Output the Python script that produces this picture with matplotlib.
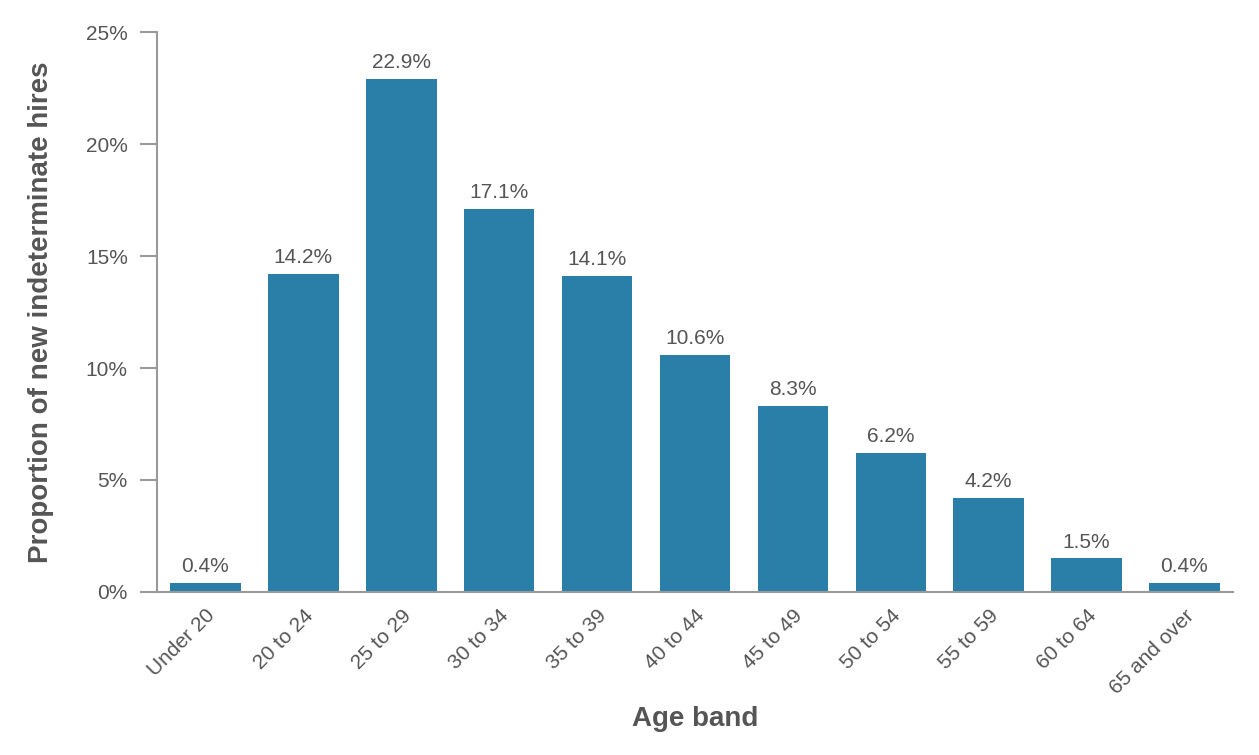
import matplotlib
matplotlib.use("Agg")
import matplotlib.pyplot as plt
from matplotlib.ticker import FuncFormatter

# Data
age_bands = ["Under 20", "20 to 24", "25 to 29", "30 to 34", "35 to 39",
             "40 to 44", "45 to 49", "50 to 54", "55 to 59", "60 to 64",
             "65 and over"]
shares = [0.4, 14.2, 22.9, 17.1, 14.1, 10.6, 8.3, 6.2, 4.2, 1.5, 0.4]
y_ticks = [0, 5, 10, 15, 20, 25]

bar_color = "#2a7fa8"
text_color = "#555555"
axis_color = "#999999"

plt.rcParams["font.family"] = ["Liberation Sans", "DejaVu Sans"]

fig = plt.figure(figsize=(12.59, 7.55), dpi=100)
ax = fig.add_axes([0.1247, 0.2159, 0.8546, 0.7417])

x = list(range(len(age_bands)))
ax.bar(x, shares, width=0.72, color=bar_color)

for xi, v in zip(x, shares):
    ax.text(xi, v + 0.3, f"{v:.1f}%", ha="center", va="bottom",
            fontsize=15, color=text_color)

ax.set_xlim(-0.495, len(age_bands) - 0.505)
ax.set_ylim(0, 25)
ax.set_yticks(y_ticks)
ax.yaxis.set_major_formatter(FuncFormatter(lambda v, _: f"{v:.0f}%"))
ax.set_xticks(x)
ax.set_xticklabels(age_bands, rotation=45, ha="right", rotation_mode="anchor")

ax.tick_params(axis="y", length=12, width=1.5, color=axis_color,
               labelsize=15, labelcolor=text_color, pad=9)
ax.tick_params(axis="x", length=0, labelsize=15, labelcolor=text_color, pad=10)

for side in ["top", "right"]:
    ax.spines[side].set_visible(False)
for side in ["left", "bottom"]:
    ax.spines[side].set_color(axis_color)
    ax.spines[side].set_linewidth(1.5)

ax.set_xlabel("Age band", fontsize=20, fontweight="bold", color=text_color,
              labelpad=6)
ax.set_ylabel("Proportion of new indeterminate hires", fontsize=20,
              fontweight="bold", color=text_color, labelpad=23)

fig.savefig("out.png", dpi=100)
